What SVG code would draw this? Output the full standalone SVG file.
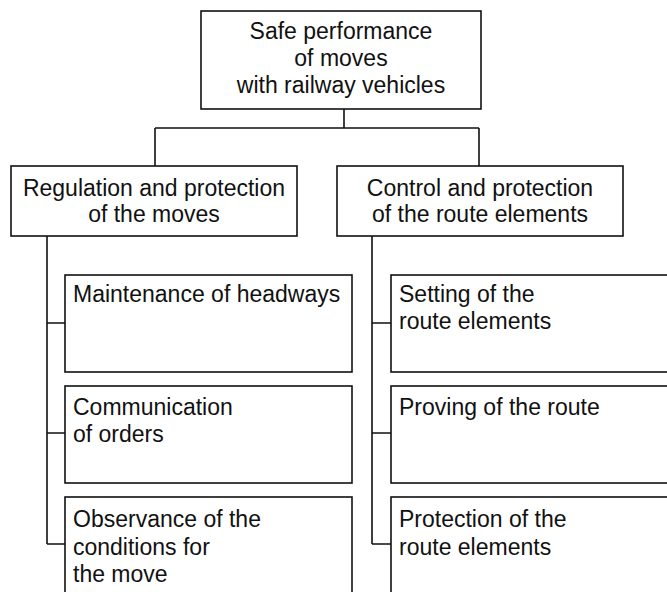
<svg xmlns="http://www.w3.org/2000/svg" width="667" height="592" viewBox="0 0 667 592">
  <style>
    .box { fill: #ffffff; stroke: #111111; stroke-width: 1.6; }
    .link { fill: none; stroke: #111111; stroke-width: 1.6; }
    text { font-family: "Liberation Sans", Arial, sans-serif; font-size: 23px; fill: #111111; }
    .c { text-anchor: middle; }
  </style>
  <rect width="667" height="592" fill="#ffffff"/>

  <g id="connectors">
    <path class="link" d="M344,109 V128 M155,128 H479 M155,128 V166 M479,128 V166"/>
    <path class="link" d="M47,236 V544 M47,323 H65 M47,433 H65 M47,544 H65"/>
    <path class="link" d="M372,236 V544 M372,323 H391 M372,433 H391 M372,544 H391"/>
  </g>

  <g id="root">
    <rect class="box" x="201" y="11" width="280" height="98"/>
    <text class="c" x="341" y="39">Safe performance</text>
    <text class="c" x="341" y="66">of moves</text>
    <text class="c" x="341" y="93">with railway vehicles</text>
  </g>

  <g id="regulation">
    <rect class="box" x="11" y="166" width="286" height="70"/>
    <text class="c" x="154" y="196">Regulation and protection</text>
    <text class="c" x="154" y="222">of the moves</text>
  </g>

  <g id="control">
    <rect class="box" x="337" y="166" width="286" height="70"/>
    <text class="c" x="480" y="196">Control and protection</text>
    <text class="c" x="480" y="222">of the route elements</text>
  </g>

  <g id="headways">
    <rect class="box" x="65" y="275" width="287" height="97"/>
    <text x="73" y="302">Maintenance of headways</text>
  </g>

  <g id="orders">
    <rect class="box" x="65" y="386" width="287" height="97"/>
    <text x="73" y="415">Communication</text>
    <text x="73" y="442">of orders</text>
  </g>

  <g id="conditions">
    <rect class="box" x="65" y="497" width="287" height="120"/>
    <text x="73" y="527">Observance of the</text>
    <text x="73" y="555">conditions for</text>
    <text x="73" y="582">the move</text>
  </g>

  <g id="setting">
    <rect class="box" x="391" y="275" width="300" height="97"/>
    <text x="399" y="302">Setting of the</text>
    <text x="399" y="329">route elements</text>
  </g>

  <g id="proving">
    <rect class="box" x="391" y="386" width="300" height="97"/>
    <text x="399" y="415">Proving of the route</text>
  </g>

  <g id="protection">
    <rect class="box" x="391" y="497" width="300" height="120"/>
    <text x="399" y="527">Protection of the</text>
    <text x="399" y="555">route elements</text>
  </g>
</svg>
